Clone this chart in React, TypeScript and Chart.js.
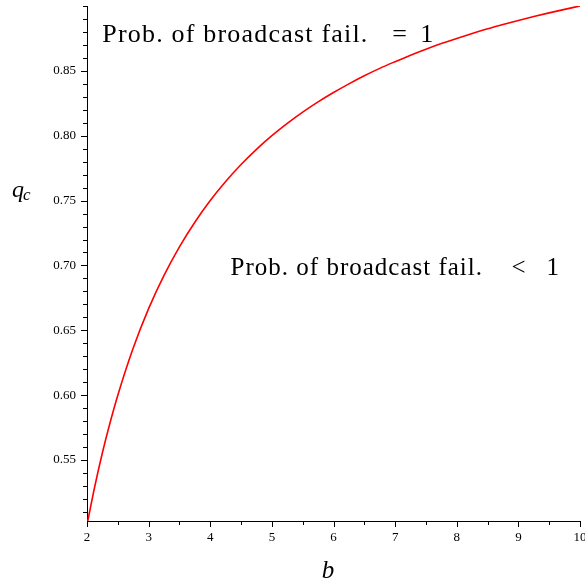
import { useEffect, useRef } from "react";
import { Chart, registerables } from "chart.js";

Chart.register(...registerables);

// Critical threshold q_c plotted against branching parameter b
const bValues = [
  2, 2.125, 2.25, 2.375, 2.5, 2.75, 3, 3.25, 3.5, 3.75, 4, 4.25, 4.5, 4.75, 5, 5.25, 5.5, 5.75, 6, 6.25, 6.5, 6.75, 7,
  7.25, 7.5, 7.75, 8, 8.25, 8.5, 8.75, 9, 9.25, 9.5, 9.75, 10,
];
const qcValues = [
  0.5, 0.5294, 0.5556, 0.5789, 0.6, 0.6364, 0.6667, 0.6923, 0.7143, 0.7333, 0.75, 0.7647, 0.7778, 0.7895, 0.8, 0.8095,
  0.8182, 0.8261, 0.8333, 0.84, 0.8462, 0.8519, 0.8571, 0.8621, 0.8667, 0.871, 0.875, 0.8788, 0.8824, 0.8857, 0.8889,
  0.8919, 0.8947, 0.8974, 0.9,
];

// Axis ticks: majors carry a label, minors are drawn shorter
const xTickValues = [2, 2.5, 3, 3.5, 4, 4.5, 5, 5.5, 6, 6.5, 7, 7.5, 8, 8.5, 9, 9.5, 10];
const xMajorLabels = ["2", "3", "4", "5", "6", "7", "8", "9", "10"];
const yTickValues = [
  0.51, 0.52, 0.53, 0.54, 0.55, 0.56, 0.57, 0.58, 0.59, 0.6, 0.61, 0.62, 0.63, 0.64, 0.65, 0.66, 0.67, 0.68, 0.69, 0.7,
  0.71, 0.72, 0.73, 0.74, 0.75, 0.76, 0.77, 0.78, 0.79, 0.8, 0.81, 0.82, 0.83, 0.84, 0.85, 0.86, 0.87, 0.88, 0.89, 0.9,
];
const yMajorLabels = ["0.55", "0.60", "0.65", "0.70", "0.75", "0.80", "0.85"];

// Region annotations
const regionText = "Prob. of broadcast fail.";
const upperRelation = ["=", "1"];
const lowerRelation = ["<", "1"];

const SERIF = "'Liberation Serif', 'Times New Roman', serif";

function labelFor(value: number, labels: string[]): string {
  const hit = labels.find((l) => Math.abs(parseFloat(l) - value) < 1e-6);
  return hit ?? "";
}

const tickMarksPlugin = {
  id: "tickMarks",
  afterDraw(chart: any) {
    const ctx = chart.ctx as CanvasRenderingContext2D;
    const xs = chart.scales.x;
    const ys = chart.scales.y;
    const area = chart.chartArea;
    ctx.save();
    ctx.strokeStyle = "#000";
    ctx.lineWidth = 1;
    ctx.beginPath();
    for (const v of xTickValues) {
      const px = Math.round(xs.getPixelForValue(v)) + 0.5;
      const len = labelFor(v, xMajorLabels) ? 6 : 4;
      ctx.moveTo(px, area.bottom);
      ctx.lineTo(px, area.bottom + len);
    }
    for (const v of yTickValues) {
      const py = Math.round(ys.getPixelForValue(v)) + 0.5;
      const len = labelFor(v, yMajorLabels) ? 6 : 4;
      ctx.moveTo(area.left, py);
      ctx.lineTo(area.left - len, py);
    }
    ctx.stroke();

    // axis titles
    ctx.fillStyle = "#000";
    ctx.textAlign = "left";
    ctx.textBaseline = "alphabetic";
    ctx.font = `italic 24px ${SERIF}`;
    ctx.fillText("q", 12, 197);
    ctx.font = `italic 17px ${SERIF}`;
    ctx.fillText("c", 23, 200);
    ctx.font = `italic 25px ${SERIF}`;
    ctx.textAlign = "center";
    ctx.fillText("b", 328, 578);

    // region annotations, anchored in data coordinates
    const drawNote = (rel: string[], b: number, q: number, size: number, spacing: number, relAt: number, numAt: number) => {
      ctx.font = `${size}px ${SERIF}`;
      (ctx as any).letterSpacing = `${spacing}px`;
      ctx.textAlign = "left";
      const x = xs.getPixelForValue(b);
      const y = ys.getPixelForValue(q);
      ctx.fillText(regionText, x, y);
      (ctx as any).letterSpacing = "0px";
      ctx.fillText(rel[0], x + relAt, y);
      ctx.fillText(rel[1], x + numAt, y);
    };
    drawNote(upperRelation, 2.247, 0.8723, 26, 1.2, 290, 318);
    drawNote(lowerRelation, 4.33, 0.6923, 25, 1.0, 281, 316);
    ctx.restore();
  },
};

export default function App() {
  const canvasRef = useRef<HTMLCanvasElement | null>(null);

  useEffect(() => {
    const canvas = canvasRef.current;
    if (!canvas) return;
    const chart = new Chart(canvas, {
      type: "line",
      data: {
        datasets: [
          {
            data: bValues.map((b, i) => ({ x: b, y: qcValues[i] })),
            borderColor: "#ff0000",
            borderWidth: 1.6,
            pointRadius: 0,
            cubicInterpolationMode: "monotone",
            fill: false,
          },
        ],
      },
      options: {
        animation: false,
        responsive: false,
        layout: { padding: { top: 6, right: 5, left: 0, bottom: 0 } },
        plugins: { legend: { display: false }, tooltip: { enabled: false } },
        scales: {
          x: {
            type: "linear",
            min: 2,
            max: 10,
            afterBuildTicks: (scale: any) => {
              scale.ticks = xTickValues.map((v) => ({ value: v }));
            },
            afterFit: (scale: any) => {
              scale.height = 63;
              scale.paddingLeft = 0;
              scale.paddingRight = 0;
            },
            grid: { display: true, drawOnChartArea: false, drawTicks: true, tickLength: 6, color: "rgba(0,0,0,0)" },
            border: { display: true, color: "#000", width: 1 },
            ticks: {
              autoSkip: false,
              maxRotation: 0,
              padding: 3,
              color: "#000",
              font: { family: SERIF, size: 13 },
              callback: (v: any) => labelFor(Number(v), xMajorLabels),
            },
          },
          y: {
            type: "linear",
            min: 0.503,
            max: 0.9,
            afterBuildTicks: (scale: any) => {
              scale.ticks = yTickValues.map((v) => ({ value: v }));
            },
            afterFit: (scale: any) => {
              scale.width = 87;
              scale.paddingTop = 0;
              scale.paddingBottom = 0;
            },
            grid: { display: true, drawOnChartArea: false, drawTicks: true, tickLength: 6, color: "rgba(0,0,0,0)" },
            border: { display: true, color: "#000", width: 1 },
            ticks: {
              autoSkip: false,
              padding: 5,
              color: "#000",
              font: { family: SERIF, size: 13 },
              callback: (v: any) => labelFor(Number(v), yMajorLabels),
            },
          },
        },
      },
      plugins: [tickMarksPlugin],
    } as any);
    return () => chart.destroy();
  }, []);

  return (
    <div style={{ position: "absolute", left: 0, top: 0, width: 585, height: 584, background: "#fff" }}>
      <canvas ref={canvasRef} width={585} height={584} style={{ display: "block" }} />
    </div>
  );
}
